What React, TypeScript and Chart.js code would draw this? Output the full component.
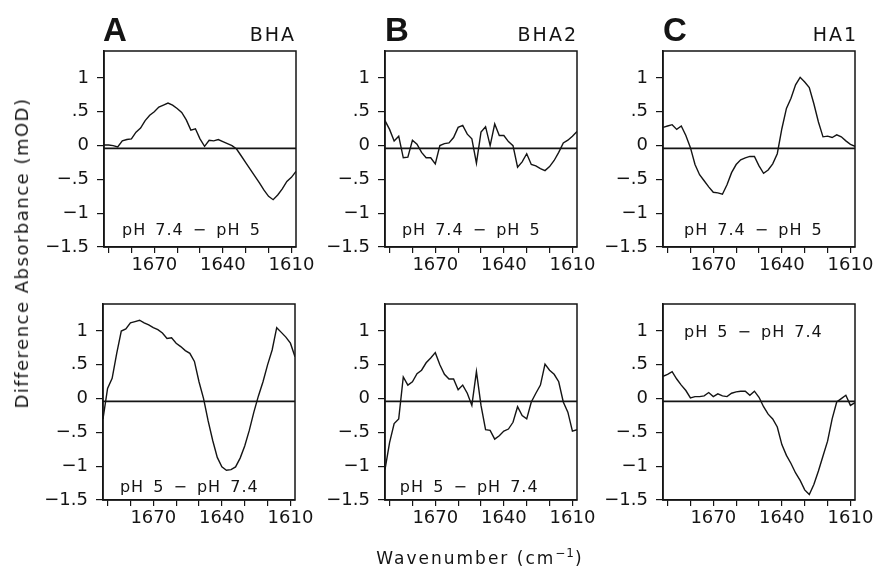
import React, { useEffect, useRef } from "react";
import { Chart, registerables } from "chart.js";

Chart.register(...registerables);

// ---------------- data ----------------
const WAVENUMBERS = [
  1692, 1690, 1688, 1686, 1684, 1682, 1680, 1678, 1676, 1674, 1672, 1670, 1668, 1666, 1664,
  1662, 1660, 1658, 1656, 1654, 1652, 1650, 1648, 1646, 1644, 1642, 1640, 1638, 1636, 1634,
  1632, 1630, 1628, 1626, 1624, 1622, 1620, 1618, 1616, 1614, 1612, 1610, 1608,
];

const X_TICKS = [1690, 1680, 1670, 1660, 1650, 1640, 1630, 1620, 1610];
const X_LABELED = [1670, 1640, 1610];
const Y_TICKS = [-1.5, -1, -0.5, 0, 0.5, 1];
const Y_TICK_LABELS = ["\u22121.5", "\u22121", "\u2212.5", "0", ".5", "1"];
const BASELINE_LEVEL = [-0.04, -0.04];

const BHA_74_MINUS_5 = [
  0.01, 0.01, 0.0, -0.02, 0.07, 0.09, 0.1, 0.2, 0.26, 0.37, 0.45, 0.5, 0.57, 0.6, 0.63,
  0.6, 0.55, 0.49, 0.38, 0.23, 0.25, 0.1, -0.01, 0.08, 0.07, 0.09, 0.06, 0.03, 0.0, -0.05,
  -0.15, -0.25, -0.35, -0.45, -0.55, -0.66, -0.75, -0.8, -0.73, -0.64, -0.53, -0.47, -0.38,
];
const BHA2_74_MINUS_5 = [
  0.37, 0.24, 0.07, 0.14, -0.18, -0.17, 0.08, 0.02, -0.1, -0.18, -0.18, -0.27, 0.0, 0.03, 0.04,
  0.12, 0.27, 0.3, 0.17, 0.1, -0.26, 0.2, 0.28, 0.0, 0.32, 0.15, 0.15, 0.06, 0.0, -0.32,
  -0.24, -0.12, -0.28, -0.3, -0.34, -0.37, -0.31, -0.22, -0.1, 0.04, 0.08, 0.14, 0.21,
];
const HA1_74_MINUS_5 = [
  0.27, 0.29, 0.31, 0.24, 0.29, 0.15, -0.03, -0.28, -0.43, -0.52, -0.61, -0.69, -0.7, -0.72, -0.58,
  -0.4, -0.28, -0.21, -0.18, -0.16, -0.16, -0.3, -0.41, -0.36, -0.27, -0.12, 0.25, 0.55, 0.7, 0.9,
  1.01, 0.94, 0.86, 0.62, 0.35, 0.13, 0.14, 0.12, 0.16, 0.13, 0.07, 0.02, -0.01,
];
const BHA_5_MINUS_74 = [
  -0.3, 0.15, 0.3, 0.67, 1.0, 1.03, 1.12, 1.14, 1.16, 1.12, 1.09, 1.05, 1.02, 0.97, 0.89,
  0.9, 0.82, 0.77, 0.71, 0.67, 0.55, 0.25, 0.0, -0.33, -0.62, -0.87, -1.01, -1.06, -1.05, -1.01,
  -0.88, -0.7, -0.47, -0.2, 0.04, 0.25, 0.5, 0.72, 1.05, 0.98, 0.91, 0.82, 0.62,
];
const BHA2_5_MINUS_74 = [
  -1.05, -0.65, -0.37, -0.3, 0.32, 0.2, 0.25, 0.37, 0.42, 0.53, 0.6, 0.68, 0.5, 0.36, 0.29,
  0.29, 0.13, 0.2, 0.08, -0.1, 0.4, -0.1, -0.46, -0.47, -0.6, -0.55, -0.48, -0.45, -0.35, -0.12,
  -0.25, -0.3, -0.05, 0.08, 0.2, 0.51, 0.42, 0.36, 0.25, -0.05, -0.2, -0.48, -0.46,
];
const HA1_5_MINUS_74 = [
  0.33, 0.36, 0.4, 0.29, 0.2, 0.12, 0.01, 0.03, 0.03, 0.04, 0.09, 0.03, 0.07, 0.04, 0.03,
  0.08, 0.1, 0.11, 0.11, 0.05, 0.11, 0.02, -0.12, -0.23, -0.3, -0.42, -0.68, -0.84, -0.96, -1.1,
  -1.21, -1.35, -1.42, -1.27, -1.07, -0.85, -0.63, -0.3, -0.05, 0.0, 0.05, -0.1, -0.06,
];

const LABEL_74_5 = "pH 7.4 \u2212 pH 5";
const LABEL_5_74 = "pH 5 \u2212 pH 7.4";

// ---------------- layout ----------------
const X_MIN = 1608;
const X_MAX = 1692;
const Y_MIN = -1.5;
const Y_MAX = 1.4;
const BOX_W = 192;
const BOX_H = 196;
const AXIS_W = 100;
const AXIS_H = 40;
const PAD_TOP = 26;
const PAD_RIGHT = 30;
const CW = AXIS_W + BOX_W + PAD_RIGHT;
const CH = PAD_TOP + BOX_H + AXIS_H;
const INK = "#141414";
const FONT = "'DejaVu Sans', sans-serif";

type PanelCfg = {
  series: number[];
  text: string;
  tx: number;
  ty: number;
  left: number;
  top: number;
};

const PANELS: PanelCfg[] = [
  { series: BHA_74_MINUS_5, text: LABEL_74_5, tx: 1684.1, ty: -1.32, left: 104, top: 51 },
  { series: BHA2_74_MINUS_5, text: LABEL_74_5, tx: 1684.6, ty: -1.32, left: 385, top: 51 },
  { series: HA1_74_MINUS_5, text: LABEL_74_5, tx: 1682.8, ty: -1.32, left: 663, top: 51 },
  { series: BHA_5_MINUS_74, text: LABEL_5_74, tx: 1684.6, ty: -1.38, left: 103, top: 304 },
  { series: BHA2_5_MINUS_74, text: LABEL_5_74, tx: 1685.5, ty: -1.38, left: 385, top: 304 },
  { series: HA1_5_MINUS_74, text: LABEL_5_74, tx: 1682.8, ty: 0.91, left: 663, top: 304 },
];

const framePlugin = {
  id: "frame",
  afterDraw(chart: any, _args: any, opts: any) {
    const { ctx, chartArea } = chart;
    const { left, top, right, bottom } = chartArea;
    ctx.save();
    ctx.strokeStyle = INK;
    ctx.lineWidth = 1.5;
    ctx.strokeRect(left, top, right - left, bottom - top);
    ctx.font = `16px ${FONT}`;
    (ctx as any).letterSpacing = "1px";
    (ctx as any).wordSpacing = "3px";
    ctx.fillStyle = INK;
    ctx.textAlign = "left";
    ctx.textBaseline = "alphabetic";
    const x = chart.scales.x.getPixelForValue(opts.tx);
    const y = chart.scales.y.getPixelForValue(opts.ty);
    ctx.fillText(opts.text, x, y);
    ctx.restore();
  },
};

function Panel({ cfg }: { cfg: PanelCfg }) {
  const ref = useRef<HTMLCanvasElement>(null);
  useEffect(() => {
    const chart = new Chart(ref.current as HTMLCanvasElement, {
      type: "line",
      data: {
        datasets: [
          {
            data: WAVENUMBERS.map((w, i) => ({ x: w, y: cfg.series[i] })),
            borderColor: INK,
            borderWidth: 1.4,
            pointRadius: 0,
            tension: 0,
            fill: false,
          },
          {
            data: [
              { x: X_MAX, y: BASELINE_LEVEL[0] },
              { x: X_MIN, y: BASELINE_LEVEL[1] },
            ],
            borderColor: INK,
            borderWidth: 1.8,
            pointRadius: 0,
            fill: false,
          },
        ],
      },
      options: {
        animation: false,
        responsive: false,
        maintainAspectRatio: false,
        events: [],
        layout: { padding: { left: 0, top: PAD_TOP, right: PAD_RIGHT, bottom: 0 } },
        plugins: {
          legend: { display: false },
          tooltip: { enabled: false },
          frame: { tx: cfg.tx, ty: cfg.ty, text: cfg.text },
        } as any,
        scales: {
          x: {
            type: "linear",
            reverse: true,
            min: X_MIN,
            max: X_MAX,
            afterBuildTicks: (s: any) => {
              s.ticks = X_TICKS.map((v) => ({ value: v }));
            },
            afterFit: (s: any) => {
              s.height = AXIS_H;
            },
            grid: {
              drawOnChartArea: false,
              drawTicks: true,
              tickLength: 6,
              color: INK,
              lineWidth: 1.2,
            },
            border: { display: true, color: INK, width: 1.5 },
            ticks: {
              autoSkip: false,
              maxRotation: 0,
              minRotation: 0,
              padding: 2,
              color: INK,
              font: { family: FONT, size: 18 },
              callback: (v: any) => (X_LABELED.includes(Number(v)) ? String(v) : ""),
            },
          },
          y: {
            type: "linear",
            min: Y_MIN,
            max: Y_MAX,
            afterBuildTicks: (s: any) => {
              s.ticks = Y_TICKS.map((v) => ({ value: v }));
            },
            afterFit: (s: any) => {
              s.width = AXIS_W;
            },
            grid: {
              drawOnChartArea: false,
              drawTicks: true,
              tickLength: 7,
              color: INK,
              lineWidth: 1.2,
            },
            border: { display: true, color: INK, width: 1.5 },
            ticks: {
              autoSkip: false,
              padding: 8,
              color: INK,
              font: { family: FONT, size: 18 },
              callback: (v: any) => {
                const i = Y_TICKS.indexOf(Number(v));
                return i >= 0 ? Y_TICK_LABELS[i] : "";
              },
            },
          },
        },
      },
      plugins: [framePlugin],
    } as any);
    return () => chart.destroy();
  }, [cfg]);
  return (
    <canvas
      ref={ref}
      width={CW}
      height={CH}
      style={{
        position: "absolute",
        left: cfg.left - AXIS_W,
        top: cfg.top - PAD_TOP,
        width: CW,
        height: CH,
      }}
    />
  );
}

const LETTERS = [
  { t: "A", left: 103 },
  { t: "B", left: 385 },
  { t: "C", left: 663 },
];
const NAMES = [
  { t: "BHA", right: 294 },
  { t: "BHA2", right: 576 },
  { t: "HA1", right: 856 },
];

export default function App() {
  return (
    <div
      style={{
        position: "fixed",
        left: 0,
        top: 0,
        width: 877,
        height: 577,
        background: "#fff",
        overflow: "hidden",
        color: INK,
      }}
    >
      {PANELS.map((p, i) => (
        <Panel key={i} cfg={p} />
      ))}
      {LETTERS.map((l) => (
        <div
          key={l.t}
          style={{
            position: "absolute",
            left: l.left,
            top: 13,
            font: "bold 33px 'Liberation Sans', Arial, sans-serif",
            lineHeight: 1,
            whiteSpace: "nowrap",
          }}
        >
          {l.t}
        </div>
      ))}
      {NAMES.map((n) => (
        <div
          key={n.t}
          style={{
            position: "absolute",
            right: 877 - n.right - 2,
            top: 25,
            fontFamily: FONT,
            fontSize: 19,
            letterSpacing: "2px",
            lineHeight: 1,
            whiteSpace: "nowrap",
          }}
        >
          {n.t}
        </div>
      ))}
      <div
        style={{
          position: "absolute",
          left: 21.5,
          top: 252.5,
          transform: "translate(-50%, -50%) rotate(-90deg)",
          fontFamily: FONT,
          fontSize: 18,
          letterSpacing: "1.5px",
          lineHeight: 1,
          whiteSpace: "nowrap",
        }}
      >
        Difference Absorbance (mOD)
      </div>
      <div
        style={{
          position: "absolute",
          left: 480,
          top: 550,
          transform: "translateX(-50%)",
          fontFamily: FONT,
          fontSize: 17,
          letterSpacing: "2px",
          lineHeight: 1,
          whiteSpace: "nowrap",
        }}
      >
        Wavenumber (cm
        <span style={{ fontSize: 12, position: "relative", top: -7, letterSpacing: "1px" }}>
          {"\u22121"}
        </span>
        )
      </div>
    </div>
  );
}
